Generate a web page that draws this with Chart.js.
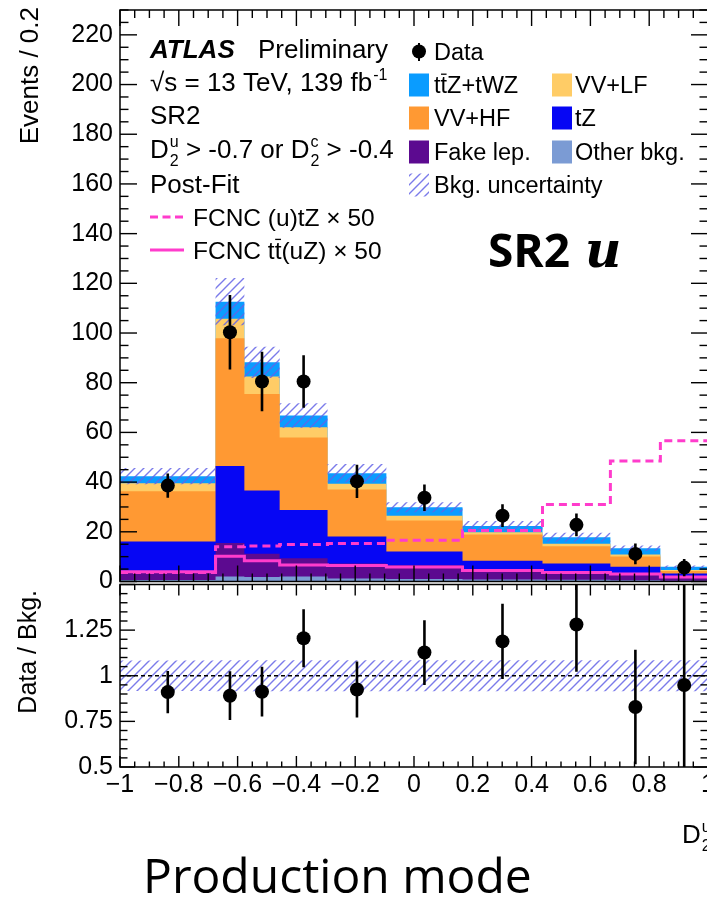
<!DOCTYPE html>
<html><head><meta charset="utf-8">
<script src="https://cdn.jsdelivr.net/npm/chart.js"></script>
<style>
html,body{margin:0;padding:0;background:#fff;overflow:hidden;width:707px;height:898px;}
#wrap{position:relative;width:707px;height:898px;overflow:hidden;}
canvas{position:absolute;left:0;top:0;}
</style></head><body>
<div id="wrap">
<canvas id="main" width="730" height="898" style="width:730px;height:898px"></canvas>
<canvas id="ratio" width="730" height="898" style="width:730px;height:898px"></canvas>
</div>
<script>
// ---------------- data ----------------
const binEdges   = [-1, -0.675, -0.577, -0.457, -0.294, -0.094, 0.165, 0.437, 0.668, 0.838, 1.0];
const otherBkg   = [0.6, 2.0, 1.8, 2.0, 1.2, 1.0, 0.8, 0.7, 0.5, 0.3];
const fakeLep    = [2.9, 13.5, 9.4, 7.4, 6.0, 5.5, 3.2, 2.6, 2.2, 1.3];
const tZ         = [12.6, 31.0, 25.4, 19.4, 10.9, 5.6, 4.4, 3.9, 3.2, 1.6];
const vvHF       = [20.2, 51.4, 38.9, 29.2, 18.9, 12.4, 10.5, 7.0, 4.2, 1.0];
const vvLF       = [3.2, 7.8, 7.0, 4.1, 2.3, 2.0, 0.9, 1.0, 0.8, 0.4];
const ttZtWZ     = [2.9, 6.9, 5.7, 4.7, 4.3, 3.4, 2.5, 2.6, 2.5, 1.3];
const bkgUnc     = [3.3, 9.5, 6.3, 4.9, 3.7, 2.0, 2.0, 1.8, 1.1, 0.5];
const fcncTZ     = [3.6, 14.0, 14.3, 14.9, 15.3, 16.6, 20.5, 31.0, 48.5, 56.6];
const fcncTTuZ   = [3.9, 10.2, 8.4, 6.6, 6.4, 5.8, 4.4, 3.6, 3.0, 1.8];
const dataVals   = [38.6, 100.3, 80.5, 80.5, 40.3, 33.7, 26.5, 22.8, 11.1, 5.6];
const dataErr    = [4.9, 15.0, 12.0, 10.6, 6.7, 5.3, 4.6, 4.6, 4.2, 3.5];
const ratioUnc   = [0.083, 0.085, 0.085, 0.085, 0.085, 0.085, 0.085, 0.085, 0.085, 0.085];

const xTickValues = [-1, -0.8, -0.6, -0.4, -0.2, 0, 0.2, 0.4, 0.6, 0.8, 1];
const xTickLabels = ['\u22121', '\u22120.8', '\u22120.6', '\u22120.4', '\u22120.2', '0', '0.2', '0.4', '0.6', '0.8', '1'];
const yMainTicks  = [0, 20, 40, 60, 80, 100, 120, 140, 160, 180, 200, 220];
const yRatioTicks = [0.5, 0.75, 1, 1.25];
const yRatioLabels = ['0.5', '0.75', '1', '1.25'];

const stackNames  = ['Other bkg.', 'Fake lep.', 'tZ', 'VV+HF', 'VV+LF', 'ttZ+tWZ'];
const stackColors = ['#7b9bd4', '#5c0a90', '#0606f4', '#ff9933', '#ffcc66', '#0a9cff'];

// ---------------- helpers ----------------
const FONT = '"Liberation Sans", Arimo, Arial, Helvetica, sans-serif';
const PINK = '#ff3ccc';
const HATCH = 'rgba(100,100,230,0.85)';
const nb = dataVals.length;
const centers = binEdges.slice(0, nb).map((e, i) => (e + binEdges[i + 1]) / 2);
const stepPts = vals => {
  const p = vals.map((v, i) => ({x: binEdges[i], y: v}));
  p.push({x: binEdges[nb], y: vals[nb - 1]});
  return p;
};
const comps = [otherBkg, fakeLep, tZ, vvHF, vvLF, ttZtWZ];
const cum = [];
let acc = new Array(nb).fill(0);
comps.forEach(c => { acc = acc.map((a, i) => a + c[i]); cum.push(acc.slice()); });
const total = cum[cum.length - 1];
const ratioVals = dataVals.map((d, i) => d / total[i]);
const ratioErr = dataErr.map((e, i) => e / total[i]);

function makeHatch(ctx) {
  const c = document.createElement('canvas'); c.width = 9; c.height = 9;
  const g = c.getContext('2d');
  g.strokeStyle = HATCH; g.lineWidth = 1.4;
  g.beginPath();
  g.moveTo(-1, 10); g.lineTo(10, -1);
  g.moveTo(-1, 1); g.lineTo(1, -1);
  g.moveTo(8, 10); g.lineTo(10, 8);
  g.stroke();
  return ctx.createPattern(c, 'repeat');
}
function seg(ctx, x1, y1, x2, y2) { ctx.beginPath(); ctx.moveTo(x1, y1); ctx.lineTo(x2, y2); ctx.stroke(); }

function rootFrame(chart, o) {
  const {ctx, chartArea: a, scales} = chart;
  const xs = scales.x, ys = scales.y;
  ctx.save();
  ctx.strokeStyle = '#000'; ctx.lineWidth = 1.5;
  ctx.strokeRect(a.left, a.top, a.right - a.left, a.bottom - a.top);
  ctx.lineWidth = 1.4;
  for (let k = 0; k <= 40; k++) {
    const v = -1 + k * 0.05;
    const major = k % 4 === 0;
    const L = major ? o.xMaj : o.xMin;
    const px = xs.getPixelForValue(v);
    seg(ctx, px, a.bottom, px, a.bottom - L);
    seg(ctx, px, a.top, px, a.top + L);
  }
  for (let v = o.yMin; v <= o.yMax + 1e-9; v += o.yMinorStep) {
    const isMaj = Math.abs(v / o.yMajorStep - Math.round(v / o.yMajorStep)) < 1e-6;
    const L = isMaj ? o.yMaj : o.yMinL;
    const py = ys.getPixelForValue(v);
    seg(ctx, a.left, py, a.left + L, py);
    seg(ctx, a.right, py, a.right - L, py);
  }
  ctx.restore();
}

function errorBars(chart, vals, errs) {
  const {ctx, chartArea: a} = chart;
  ctx.save();
  ctx.beginPath(); ctx.rect(a.left, a.top, a.right - a.left, a.bottom - a.top); ctx.clip();
  ctx.strokeStyle = '#000'; ctx.lineWidth = 2.6;
  vals.forEach((v, i) => {
    const px = chart.scales.x.getPixelForValue(centers[i]);
    seg(ctx, px, chart.scales.y.getPixelForValue(v - errs[i]), px, chart.scales.y.getPixelForValue(v + errs[i]));
  });
  ctx.restore();
}

function txt(ctx, s, x, y, size, style) {
  ctx.font = `${style || ''} ${size}px ${FONT}`;
  ctx.fillText(s, x, y);
  return x + ctx.measureText(s).width;
}
function tbarText(ctx, parts, x, y, size) {
  ctx.font = `${size}px ${FONT}`;
  parts.forEach(([s, bar]) => {
    const w = ctx.measureText(s).width;
    ctx.fillText(s, x, y);
    if (bar) {
      ctx.save(); ctx.lineWidth = 1.3; ctx.strokeStyle = '#000';
      seg(ctx, x + 0.5, y - size * 0.8, x + w - 0.5, y - size * 0.8);
      ctx.restore();
    }
    x += w;
  });
  return x;
}
function dsubsup(ctx, x, y, size, sub, sup) {
  x = txt(ctx, 'D', x, y, size);
  ctx.font = `${Math.round(size * 0.62)}px ${FONT}`;
  ctx.fillText(sub, x + 1, y + size * 0.3);
  ctx.fillText(sup, x + 1, y - size * 0.42);
  return x + 1 + Math.max(ctx.measureText(sub).width, ctx.measureText(sup).width);
}

// ---------------- main panel ----------------
const mainCtx = document.getElementById('main').getContext('2d');
const hatchMain = makeHatch(mainCtx);
const mainDatasets = [];
cum.forEach((c, k) => {
  mainDatasets.push({label: stackNames[k], data: stepPts(c), stepped: 'before', fill: 'origin',
    backgroundColor: stackColors[k], borderColor: 'transparent', borderWidth: 0, pointRadius: 0, order: 10});
});
mainDatasets.push({label: 'uncLo', data: stepPts(total.map((t, i) => t - bkgUnc[i])), stepped: 'before', fill: false,
  borderColor: 'transparent', borderWidth: 0, pointRadius: 0, order: 5});
mainDatasets.push({label: 'Bkg. uncertainty', data: stepPts(total.map((t, i) => t + bkgUnc[i])), stepped: 'before', fill: '-1',
  backgroundColor: hatchMain, borderColor: 'transparent', borderWidth: 0, pointRadius: 0, order: 5});
mainDatasets.push({label: 'FCNC (u)tZ x 50', data: stepPts(fcncTZ), stepped: 'before', fill: false,
  borderColor: PINK, borderWidth: 3, borderDash: [8, 5], pointRadius: 0, order: 2});
mainDatasets.push({label: 'FCNC ttbar(uZ) x 50', data: stepPts(fcncTTuZ), stepped: 'before', fill: false,
  borderColor: PINK, borderWidth: 3, pointRadius: 0, order: 2});
mainDatasets.push({label: 'Data', data: centers.map((c, i) => ({x: c, y: dataVals[i]})), showLine: false,
  pointRadius: 7, pointBackgroundColor: '#000', pointBorderColor: '#000', pointBorderWidth: 0, order: 1});

const mainDeco = {
  id: 'mainDeco',
  afterDatasetsDraw(chart) { errorBars(chart, dataVals, dataErr); },
  afterDraw(chart) {
    rootFrame(chart, {xMaj: 16, xMin: 8, yMin: 0, yMax: 230, yMinorStep: 5, yMajorStep: 20, yMaj: 17, yMinL: 8.5});
    const ctx = chart.ctx;
    ctx.save();
    ctx.fillStyle = '#000'; ctx.textBaseline = 'alphabetic'; ctx.textAlign = 'left';
    ctx.save(); ctx.translate(38, 7); ctx.rotate(-Math.PI / 2); ctx.textAlign = 'right';
    txt(ctx, 'Events / 0.2', 0, 0, 26); ctx.restore();
    txt(ctx, 'ATLAS', 150, 58, 26, 'italic bold');
    txt(ctx, 'Preliminary', 258, 58, 26);
    let x = txt(ctx, '\u221As = 13 TeV, 139 fb', 150, 91, 26);
    txt(ctx, '-1', x + 1, 80, 16);
    txt(ctx, 'SR2', 150, 124, 26);
    x = dsubsup(ctx, 150, 158, 26, '2', 'u');
    x = txt(ctx, ' > -0.7 or ', x, 158, 26);
    x = dsubsup(ctx, x, 158, 26, '2', 'c');
    txt(ctx, ' > -0.4', x, 158, 26);
    txt(ctx, 'Post-Fit', 150, 193, 26);
    ctx.strokeStyle = PINK; ctx.lineWidth = 3;
    ctx.setLineDash([8, 4.5]); seg(ctx, 150, 217, 184, 217); ctx.setLineDash([]);
    seg(ctx, 150, 250, 184, 250);
    txt(ctx, 'FCNC (u)tZ \u00d7 50', 193, 226, 24.5);
    tbarText(ctx, [['FCNC t', false], ['t', true], ['(uZ) \u00d7 50', false]], 193, 259, 24.5);
    const LS = 23.5;
    ctx.fillStyle = '#000';
    ctx.beginPath(); ctx.arc(419, 51.5, 7, 0, 2 * Math.PI); ctx.fill();
    ctx.strokeStyle = '#000'; ctx.lineWidth = 2; seg(ctx, 419, 43, 419, 61);
    txt(ctx, 'Data', 434, 60, LS);
    const rows = [[93, 5, 4], [126, 3, 2], [160, 1, 0]];
    const boxAt = (bx, by, col) => { ctx.fillStyle = col; ctx.fillRect(bx, by - 19.5, 20, 23); };
    rows.forEach(([by, a, b]) => {
      boxAt(409, by, stackColors[a]); boxAt(552, by, stackColors[b]);
      ctx.fillStyle = '#000';
      if (a === 5) tbarText(ctx, [['t', false], ['t', true], ['Z+tWZ', false]], 434, by, LS);
      else txt(ctx, stackNames[a], 434, by, LS);
      txt(ctx, stackNames[b], 575, by, LS);
    });
    ctx.fillStyle = hatchMain; ctx.fillRect(409, 193 - 19.5, 20, 23);
    ctx.fillStyle = '#000';
    txt(ctx, 'Bkg. uncertainty', 434, 193, LS);
    ctx.font = 'bold 46px "Open Sans", "Noto Sans", sans-serif';
    ctx.fillText('SR2', 488, 267);
    ctx.font = 'italic bold 50px "DejaVu Serif", "Liberation Serif", serif';
    ctx.fillText('u', 585, 267);
    ctx.restore();
  }
};

new Chart(mainCtx, {
  type: 'line',
  data: {datasets: mainDatasets},
  options: {
    responsive: false, animation: false, devicePixelRatio: 1, events: [],
    layout: {padding: {left: 0, top: 10, right: 22, bottom: 316.5}},
    plugins: {legend: {display: false}, tooltip: {enabled: false}},
    scales: {
      x: {type: 'linear', min: -1, max: 1, display: false},
      y: {type: 'linear', min: 0, max: 230,
        grid: {display: false, drawTicks: false}, border: {display: false},
        ticks: {color: '#000', font: {family: FONT, size: 25}, padding: 7, autoSkip: false},
        afterBuildTicks: s => { s.ticks = yMainTicks.map(v => ({value: v})); },
        afterFit: s => { s.width = 120; s.paddingTop = 0; s.paddingBottom = 0; }
      }
    }
  },
  plugins: [mainDeco]
});

// ---------------- ratio panel ----------------
const ratioCtx = document.getElementById('ratio').getContext('2d');
const hatchRatio = makeHatch(ratioCtx);
const ratioDatasets = [
  {label: 'bandLo', data: stepPts(ratioUnc.map(u => 1 - u)), stepped: 'before', fill: false,
    borderColor: 'transparent', borderWidth: 0, pointRadius: 0, order: 5},
  {label: 'band', data: stepPts(ratioUnc.map(u => 1 + u)), stepped: 'before', fill: '-1',
    backgroundColor: hatchRatio, borderColor: 'transparent', borderWidth: 0, pointRadius: 0, order: 5},
  {label: 'unity', data: [{x: -1, y: 1}, {x: 1, y: 1}], fill: false, borderColor: '#000', borderWidth: 1.5,
    borderDash: [4, 3], pointRadius: 0, order: 3},
  {label: 'ratio', data: centers.map((c, i) => ({x: c, y: ratioVals[i]})), showLine: false,
    pointRadius: 7, pointBackgroundColor: '#000', pointBorderColor: '#000', pointBorderWidth: 0, order: 1}
];
const ratioDeco = {
  id: 'ratioDeco',
  afterDatasetsDraw(chart) { errorBars(chart, ratioVals, ratioErr); },
  afterDraw(chart) {
    rootFrame(chart, {xMaj: 11, xMin: 5.5, yMin: 0.5, yMax: 1.5, yMinorStep: 0.05, yMajorStep: 0.25, yMaj: 15, yMinL: 7.5});
    const ctx = chart.ctx;
    ctx.save(); ctx.fillStyle = '#000'; ctx.textAlign = 'left'; ctx.textBaseline = 'alphabetic';
    ctx.save(); ctx.translate(36, 590); ctx.rotate(-Math.PI / 2); ctx.textAlign = 'right';
    txt(ctx, 'Data / Bkg.', 0, 0, 25); ctx.restore();
    dsubsup(ctx, 682, 843, 26, '2', 'u');
    ctx.font = '48px "Open Sans", "Noto Sans", sans-serif';
    ctx.fillText('Production mode', 143, 893);
    ctx.restore();
  }
};
new Chart(ratioCtx, {
  type: 'line',
  data: {datasets: ratioDatasets},
  options: {
    responsive: false, animation: false, devicePixelRatio: 1, events: [],
    layout: {padding: {left: 0, top: 584.5, right: 22, bottom: 0}},
    plugins: {legend: {display: false}, tooltip: {enabled: false}},
    scales: {
      x: {type: 'linear', min: -1, max: 1,
        grid: {display: false, drawTicks: false}, border: {display: false},
        ticks: {color: '#000', font: {family: FONT, size: 25}, padding: 3, autoSkip: false, maxRotation: 0, minRotation: 0,
          callback: (v, i) => xTickLabels[i]},
        afterBuildTicks: s => { s.ticks = xTickValues.map(v => ({value: v})); },
        afterFit: s => { s.height = 898 - 767; s.paddingLeft = 0; s.paddingRight = 0; }
      },
      y: {type: 'linear', min: 0.5, max: 1.5,
        grid: {display: false, drawTicks: false}, border: {display: false},
        ticks: {color: '#000', font: {family: FONT, size: 25}, padding: 7, autoSkip: false,
          callback: (v, i) => yRatioLabels[i]},
        afterBuildTicks: s => { s.ticks = yRatioTicks.map(v => ({value: v})); },
        afterFit: s => { s.width = 120; s.paddingTop = 0; s.paddingBottom = 0; }
      }
    }
  },
  plugins: [ratioDeco]
});
</script>
</body></html>
